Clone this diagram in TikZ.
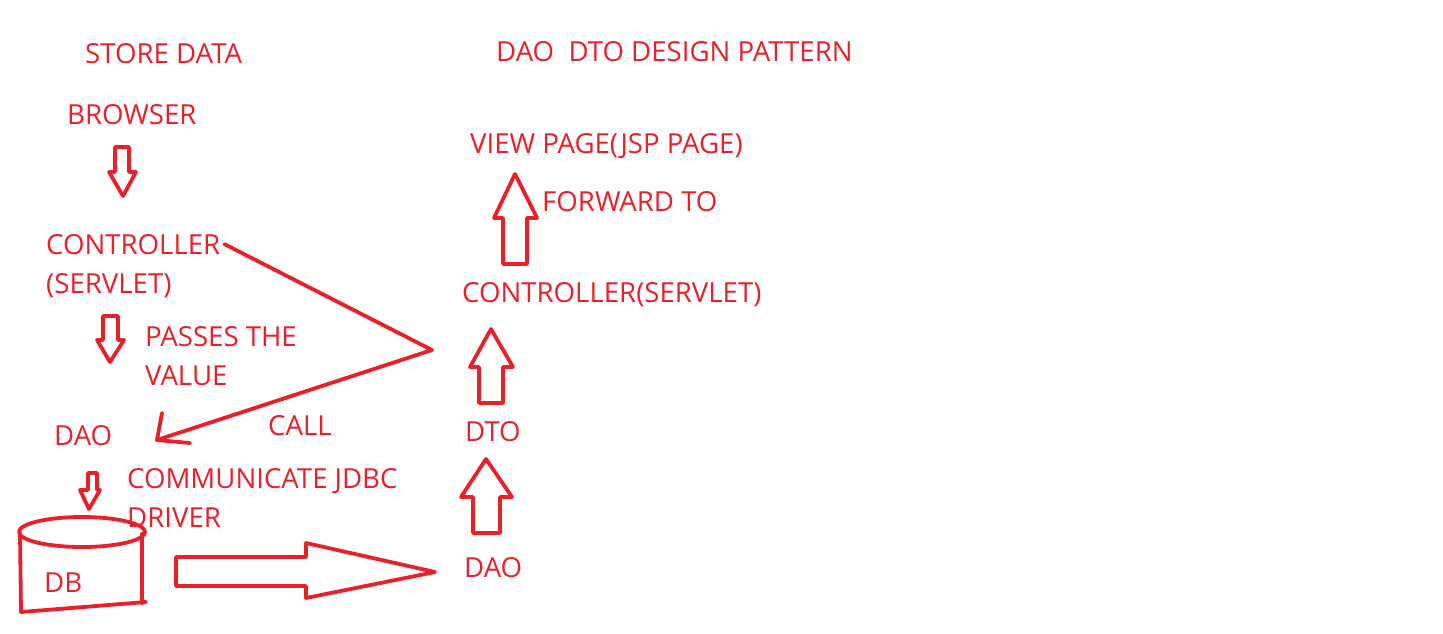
\documentclass[tikz,border=0pt]{standalone}
\usepackage{fontspec}
\setmainfont{Open Sans}
\definecolor{pen}{RGB}{232,32,40}
\begin{document}
\begin{tikzpicture}[x=1pt,y=-1pt,
  lbl/.style={anchor=base west,inner sep=0pt,text=pen,font=\fontsize{27.6}{32}\selectfont},
  stroke/.style={draw=pen,line width=3.8pt,line join=round,line cap=round}]
\useasboundingbox (0,0) rectangle (1443,633);
% texts
\node[lbl] (store) at (85,63) {STORE DATA};
\node[lbl] (title) at (496,61) {DAO\ \ DTO DESIGN PATTERN};
\node[lbl] (browser) at (67,124) {BROWSER};
\node[lbl] (ctrl1) at (46,254) {CONTROLLER};
\node[lbl] (serv1) at (46,293) {(SERVLET)};
\node[lbl] (passes) at (145,346) {PASSES THE};
\node[lbl] (value) at (145,385) {VALUE};
\node[lbl] (dao1) at (54,445) {DAO};
\node[lbl] (call) at (268,435) {CALL};
\node[lbl] (comm) at (127,488) {COMMUNICATE JDBC};
\node[lbl] (driver) at (127,527) {DRIVER};
\node[lbl] (db) at (44,592) {DB};
\node[lbl] (view) at (470,153) {VIEW PAGE(JSP PAGE)};
\node[lbl] (fwd) at (542,211) {FORWARD TO};
\node[lbl] (ctrl2) at (462,302) {CONTROLLER(SERVLET)};
\node[lbl] (dto) at (465,441) {DTO};
\node[lbl] (dao2) at (464,577) {DAO};
% hollow down arrows
\draw[stroke] (115,147) -- (129,147) -- (129,172) -- (136,172) -- (123,196) -- (109,172) -- (115,172) -- cycle;
\draw[stroke] (103,316) -- (118,316) -- (118,340) -- (124,340) -- (110,362) -- (97,340) -- (103,340) -- cycle;
\draw[stroke] (88,473) -- (97,473) -- (97,490) -- (100,490) -- (89,509) -- (80,490) -- (88,490) -- cycle;
% hollow up arrows
\draw[stroke] (503,264) -- (503,218) -- (494,218) -- (515,174) -- (537,218) -- (527,218) -- (527,264) -- cycle;
\draw[stroke] (479,403) -- (479,367) -- (470,367) -- (491,329) -- (513,367) -- (503,367) -- (503,403) -- cycle;
\draw[stroke] (473,533) -- (473,497) -- (461,497) -- (486,459) -- (512,497) -- (500,497) -- (500,533) -- cycle;
% big right arrow
\draw[stroke] (176,557) -- (306,557) -- (306,543) -- (435,572) -- (306,598) -- (306,586) -- (176,586) -- cycle;
% call connector
\coordinate (bend) at (432,350);
\coordinate (callend) at (157,440);
\draw[stroke] (ctrl1.east) ++(4,0) -- (bend) -- (callend);
\draw[stroke] (162,413) -- (callend) -- (190,443);
% database cylinder
\draw[stroke] (82,532) ellipse [x radius=63,y radius=15];
\draw[stroke] (20,533) -- (21,612) -- (146,602);
\draw[stroke] (142,534) -- (142,603);
\end{tikzpicture}
\end{document}
